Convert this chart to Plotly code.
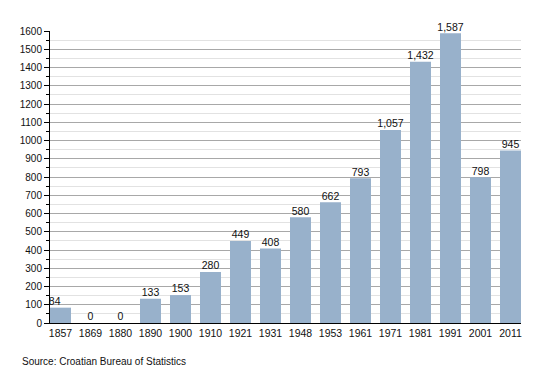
import plotly.graph_objects as go

years = ["1857", "1869", "1880", "1890", "1900", "1910", "1921", "1931",
         "1948", "1953", "1961", "1971", "1981", "1991", "2001", "2011"]
population = [84, 0, 0, 133, 153, 280, 449, 408, 580, 662, 793, 1057, 1432, 1587, 798, 945]
y_ticks = list(range(0, 1700, 100))

idx = list(range(len(years)))
labels = [f"{v:,}" for v in population]
label_pos = ["top left"] + ["top center"] * (len(years) - 1)

FONT = "Liberation Sans, Arial, sans-serif"
FS = 10

fig = go.Figure()
fig.add_trace(go.Bar(
    x=idx, y=population, width=0.7,
    marker=dict(color="#98b1cb", line=dict(width=0)),
    hoverinfo="skip",
))
fig.add_trace(go.Scatter(
    x=idx, y=population, mode="text", text=labels,
    textposition=label_pos,
    textfont=dict(family=FONT, size=FS + 0.5, color="#111"),
    hoverinfo="skip", cliponaxis=False,
))

fig.update_layout(
    width=550, height=373,
    margin=dict(l=50, r=29, t=31, b=50),
    paper_bgcolor="white", plot_bgcolor="white",
    showlegend=False,
    font=dict(family=FONT, size=FS, color="#111"),
    xaxis=dict(
        range=[-0.35, 15.35],
        tickmode="array", tickvals=idx, ticktext=years,
        showgrid=False, zeroline=False,
        showline=True, linecolor="black", linewidth=1,
        ticks="", tickfont=dict(size=FS + 0.5, family=FONT, color="#111"),
        fixedrange=True,
    ),
    yaxis=dict(
        range=[0, 1600],
        tickmode="array", tickvals=y_ticks, ticktext=[str(t) for t in y_ticks],
        showgrid=True, gridcolor="#a8a8a8", gridwidth=1,
        zeroline=False,
        showline=True, linecolor="black", linewidth=1,
        ticks="outside", ticklen=5, tickcolor="black",
        tickfont=dict(size=FS, family=FONT, color="#111"),
        minor=dict(dtick=50, showgrid=True, gridcolor="#e2e2e2",
                   ticks="outside", ticklen=3, tickcolor="black"),
        fixedrange=True,
    ),
    annotations=[dict(
        text="Source: Croatian Bureau of Statistics",
        xref="paper", yref="paper", x=-0.064, y=-0.105,
        xanchor="left", yanchor="top", showarrow=False,
        font=dict(family=FONT, size=FS, color="#111"),
    )],
)

fig.write_html(
    "out.html",
    config={"displayModeBar": False},
    post_script="document.body.style.margin='0';document.body.style.padding='0';document.body.style.overflow='hidden';",
)
